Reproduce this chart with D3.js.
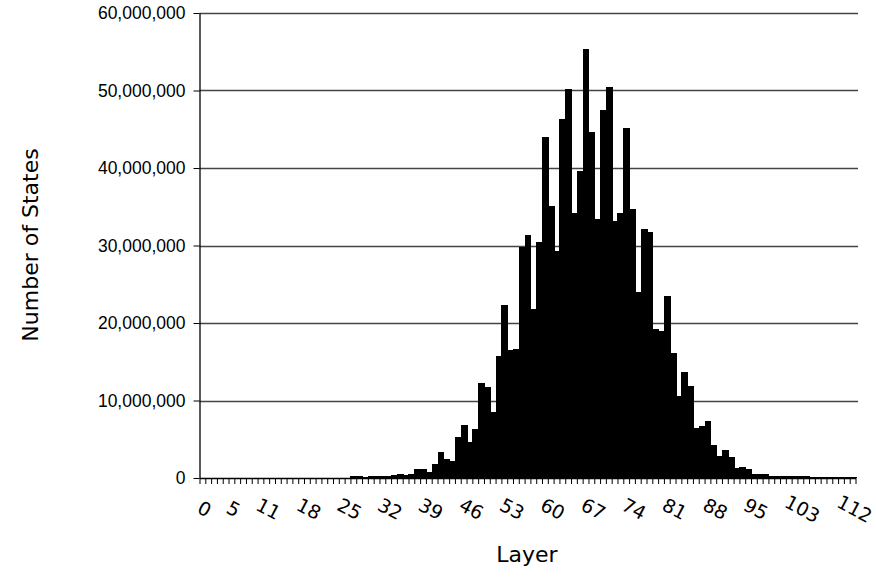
<!DOCTYPE html>
<html>
<head>
<meta charset="utf-8">
<script src="https://cdn.jsdelivr.net/npm/d3@7"></script>
<style>
  body { margin: 0; background: #fff; }
  svg { display: block; font-family: "DejaVu Sans", Verdana, sans-serif; }
</style>
</head>
<body>
<svg id="place" width="876" height="581"></svg>
<script>
// number of states per layer, in millions, layers 0..112
var layers = d3.range(0, 113);
var states = [
  0, 0, 0, 0, 0, 0, 0, 0, 0, 0,
  0, 0, 0, 0, 0, 0, 0, 0, 0, 0,
  0, 0, 0, 0, 0, 0.02, 0.2, 0.2, 0.1, 0.25,
  0.25, 0.25, 0.25, 0.35, 0.48, 0.35, 0.5, 1.2, 1.2, 0.8,
  1.8, 3.3, 2.4, 2.2, 5.3, 6.8, 4.6, 6.3, 12.3, 11.7,
  8.5, 15.7, 22.3, 16.5, 16.6, 29.8, 31.3, 21.8, 30.4, 44.0,
  35.1, 29.3, 46.3, 50.2, 34.2, 39.6, 55.3, 44.7, 33.4, 47.5,
  50.4, 33.1, 34.2, 45.1, 34.7, 24.0, 32.1, 31.8, 19.2, 19.0,
  23.5, 16.1, 10.6, 13.7, 11.9, 6.5, 6.7, 7.35, 4.3, 2.8,
  3.6, 2.7, 1.25, 1.4, 1.15, 0.5, 0.5, 0.5, 0.3, 0.2,
  0.2, 0.2, 0.2, 0.3, 0.3, 0.1, 0.1, 0.1, 0.1, 0.1,
  0.1, 0.1, 0.1
];
var labelLayers = [0, 5, 11, 18, 25, 32, 39, 46, 53, 60, 67, 74, 81, 88, 95, 103, 112];
var yTicks = [0, 10e6, 20e6, 30e6, 40e6, 50e6, 60e6];

var plotLeft = 199.5, plotRight = 855.5, plotTop = 13, plotBottom = 478;

var x = d3.scaleBand()
    .domain(layers)
    .range([plotLeft, plotRight])
    .padding(0);
var xEdge = d3.scaleLinear()
    .domain([0, layers.length])
    .range([plotLeft, plotRight]);
var y = d3.scaleLinear()
    .domain([0, 60e6])
    .range([plotBottom, plotTop]);

var svg = d3.select("#place");

// gridlines
svg.append("g")
    .selectAll("line")
    .data(yTicks.slice(1))
    .enter().append("line")
    .attr("x1", plotLeft)
    .attr("x2", 858)
    .attr("y1", function(d) { return Math.round(y(d)) + 0.5; })
    .attr("y2", function(d) { return Math.round(y(d)) + 0.5; })
    .attr("stroke", "#444")
    .attr("stroke-width", 1.3);

// bars (slightly overlapped so no seams show between them)
svg.append("g")
    .attr("shape-rendering", "crispEdges")
    .selectAll("rect")
    .data(states)
    .enter().append("rect")
    .attr("x", function(d, i) { return x(layers[i]); })
    .attr("width", x.bandwidth() + 1)
    .attr("y", function(d) { return y(d * 1e6); })
    .attr("height", function(d) { return plotBottom - y(d * 1e6); })
    .attr("fill", "#000");

// y axis
var y_axis = d3.axisLeft(y)
    .tickValues(yTicks)
    .tickSize(6)
    .tickSizeOuter(0)
    .tickPadding(8)
    .tickFormat(d3.format(","));
var gy = svg.append("g")
    .attr("transform", "translate(" + plotLeft + ",0)")
    .call(y_axis);
gy.selectAll("text")
    .style("font-size", "17.5px")
    .attr("fill", "#000");
gy.select(".domain").attr("stroke", "#000").attr("stroke-width", 1.3);

// x axis: one tick per bar edge
var x_axis = d3.axisBottom(xEdge)
    .tickValues(d3.range(0, layers.length + 1))
    .tickSize(6)
    .tickSizeOuter(0)
    .tickFormat("");
var gx = svg.append("g")
    .attr("transform", "translate(0," + plotBottom + ")")
    .call(x_axis);
gx.select(".domain").attr("stroke", "#000").attr("stroke-width", 1.3);
gx.selectAll(".tick line").attr("stroke", "#000");

// slanted layer labels
svg.append("g")
    .selectAll("text")
    .data(labelLayers)
    .enter().append("text")
    .attr("transform", function(d) {
        return "translate(" + (x(d) + x.bandwidth() / 2 + 2) + ",509)rotate(28)";
    })
    .attr("dy", "0.35em")
    .style("text-anchor", "middle")
    .style("font-size", "19px")
    .text(function(d) { return d; });

// axis titles
svg.append("text")
    .attr("transform", "translate(527, 562)")
    .style("text-anchor", "middle")
    .style("font-size", "22px")
    .text("Layer");
svg.append("text")
    .attr("transform", "translate(38, 245)rotate(-90)")
    .style("text-anchor", "middle")
    .style("font-size", "22px")
    .text("Number of States");
</script>
</body>
</html>
